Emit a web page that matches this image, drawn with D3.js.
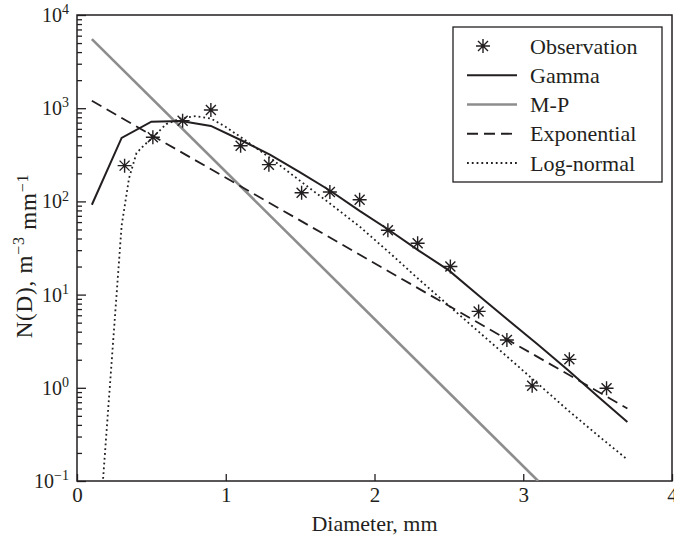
<!DOCTYPE html>
<html lang="en">
<head>
<meta charset="UTF-8">
<title>N(D)</title>
<script src="https://d3js.org/d3.v7.min.js"></script>
<style>
  body { margin: 0; background: #fff; }
  text { font-family: "Liberation Serif", "Times New Roman", serif; fill: #231f20; }
</style>
</head>
<body>
<div class="canvas"></div>
<script>
  // observed drop size distribution
  const obsD = [0.32, 0.51, 0.71, 0.90, 1.10, 1.29, 1.51, 1.70, 1.90, 2.09, 2.29, 2.51, 2.70, 2.89, 3.06, 3.31, 3.56]
  const obsN = [242, 488, 735, 955, 396, 248, 124, 126, 104, 49, 35.5, 20, 6.6, 3.26, 1.05, 2.02, 0.99]

  // fitted curves
  const gammaD = [0.1, 0.3, 0.5, 0.7, 0.9, 1.1, 1.3, 1.5, 1.7, 1.9, 2.1, 2.3, 2.5, 2.7, 2.9, 3.1, 3.3, 3.5, 3.7]
  const gammaN = [92, 480, 716, 730, 645, 456, 315, 205, 131, 79, 49, 29.5, 18.2, 9.8, 5.3, 2.9, 1.55, 0.81, 0.43]

  const mpD = [0.1, 3.1]
  const mpN = [5500, 0.1]

  const expD = [0.1, 3.7]
  const expN = [1200, 0.6]

  const lognD = [0.1, 0.3, 0.35, 0.4, 0.45, 0.5, 0.6, 0.7, 0.8, 0.9, 1.0, 1.1, 1.3, 1.5, 1.7, 1.9, 2.1, 2.3, 2.5, 2.7, 2.9, 3.1, 3.3, 3.5, 3.7]
  const lognN = [0.0024, 55, 178, 330, 400, 470, 676, 780, 822, 776, 630, 490, 292, 166, 95, 53.7, 28.2, 14.5, 7.6, 4.0, 2.1, 1.1, 0.575, 0.31, 0.17]

  const xTicks = [0, 1, 2, 3, 4]
  const yTicks = [0.1, 1, 10, 100, 1000, 10000]

  const legendNames = ['Observation', 'Gamma', 'M-P', 'Exponential', 'Log-normal']

  const width = 674
  const height = 539
  let [mt, mb, mr, ml] = [15, 58, 2, 77]

  const svg = d3.select('.canvas')
    .append('svg')
    .attr('width', width)
    .attr('height', height)

  const x = d3.scaleLinear().domain([0, 4]).range([ml, width - mr])
  const y = d3.scaleLog().domain([0.1, 10000]).range([height - mb, mt])

  svg.append('clipPath').attr('id', 'plot')
    .append('rect')
    .attr('x', ml).attr('y', mt)
    .attr('width', width - mr - ml).attr('height', height - mb - mt)

  // minor ticks on the log axis
  const minor = []
  for (let e = -1; e < 4; e++) {
    for (let k = 2; k < 10; k++) minor.push(k * Math.pow(10, e))
  }

  const yMinorG = svg.append('g').attr('transform', `translate(${ml},0)`)
  yMinorG.call(d3.axisLeft(y).tickValues(minor).tickSize(-5).tickFormat(''))

  const yAxisG = svg.append('g').attr('transform', `translate(${ml},0)`)
  yAxisG.call(d3.axisLeft(y).tickValues(yTicks).tickSize(-9).tickPadding(8))

  const xAxisG = svg.append('g').attr('transform', `translate(0,${height - mb})`)
  xAxisG.call(d3.axisBottom(x).tickValues(xTicks).tickSize(-7).tickPadding(6).tickFormat(d3.format('d')))

  svg.selectAll('.domain').remove()
  svg.selectAll('.tick line').attr('stroke', '#231f20').attr('stroke-width', 1.3)

  yAxisG.selectAll('.tick text')
    .attr('font-size', 20)
    .text(null)
    .each(function (d) {
      const ex = Math.round(Math.log10(d))
      const t = d3.select(this)
      t.append('tspan').text('10')
      t.append('tspan').attr('dy', '-0.55em').attr('font-size', 14)
        .text(ex < 0 ? '\u2212' + (-ex) : ex)
    })

  xAxisG.selectAll('.tick text').attr('font-size', 21)

  // frame
  svg.append('rect')
    .attr('x', ml).attr('y', mt)
    .attr('width', width - mr - ml).attr('height', height - mb - mt)
    .attr('fill', 'none').attr('stroke', '#231f20').attr('stroke-width', 1.5)

  const line = d3.line()
    .x(d => x(d[0]))
    .y(d => y(d[1]))

  const plot = svg.append('g').attr('clip-path', 'url(#plot)')

  const series = [
    { D: mpD, N: mpN, color: '#8d8d8d', w: 2.6, dash: null },
    { D: expD, N: expN, color: '#231f20', w: 1.8, dash: '11,6' },
    { D: lognD, N: lognN, color: '#231f20', w: 1.8, dash: '1.8,3' },
    { D: gammaD, N: gammaN, color: '#231f20', w: 2, dash: null }
  ]

  series.forEach(s => {
    plot.append('path')
      .attr('fill', 'none')
      .attr('stroke', s.color)
      .attr('stroke-width', s.w)
      .attr('stroke-dasharray', s.dash)
      .attr('d', line(d3.zip(s.D, s.N)))
  })

  const star = 'M-7,0L7,0M0,-7L0,7M-5,-5L5,5M-5,5L5,-5'

  plot.selectAll('.obs')
    .data(d3.zip(obsD, obsN))
    .enter()
    .append('path')
    .attr('class', 'obs')
    .attr('transform', d => `translate(${x(d[0])},${y(d[1])})`)
    .attr('d', star)
    .attr('fill', 'none')
    .attr('stroke', '#231f20')
    .attr('stroke-width', 1.4)

  // axis titles
  svg.append('text')
    .attr('x', (ml + width - mr) / 2)
    .attr('y', height - 8)
    .attr('text-anchor', 'middle')
    .attr('font-size', 22)
    .text('Diameter, mm')

  const yl = svg.append('text')
    .attr('transform', `translate(32,256) rotate(-90)`)
    .attr('text-anchor', 'middle')
    .attr('font-size', 23)
    .attr('letter-spacing', 0.8)
  yl.append('tspan').text('N(D), m')
  yl.append('tspan').attr('dy', '-0.5em').attr('font-size', 16).text('\u22123')
  yl.append('tspan').attr('dy', '0.5em').text(' mm')
  yl.append('tspan').attr('dy', '-0.5em').attr('font-size', 16).text('\u22121')

  // legend
  const lg = svg.append('g')
  lg.append('rect')
    .attr('x', 453).attr('y', 27)
    .attr('width', 209).attr('height', 155)
    .attr('fill', '#fff').attr('stroke', '#231f20').attr('stroke-width', 1.3)

  const legendY = d3.scalePoint().domain(legendNames).range([46, 163])
  const styles = [null, series[3], series[0], series[1], series[2]]

  legendNames.forEach((name, i) => {
    const yy = legendY(name)
    if (i === 0) {
      lg.append('path')
        .attr('transform', `translate(483,${yy})`)
        .attr('d', star)
        .attr('fill', 'none').attr('stroke', '#231f20').attr('stroke-width', 1.4)
    } else {
      const s = styles[i]
      lg.append('line')
        .attr('x1', 467).attr('x2', 517)
        .attr('y1', yy).attr('y2', yy)
        .attr('stroke', s.color).attr('stroke-width', s.w)
        .attr('stroke-dasharray', s.dash)
    }
    lg.append('text')
      .attr('x', 530).attr('y', yy)
      .attr('dy', '0.35em')
      .attr('font-size', 22)
      .text(name)
  })
</script>
</body>
</html>
